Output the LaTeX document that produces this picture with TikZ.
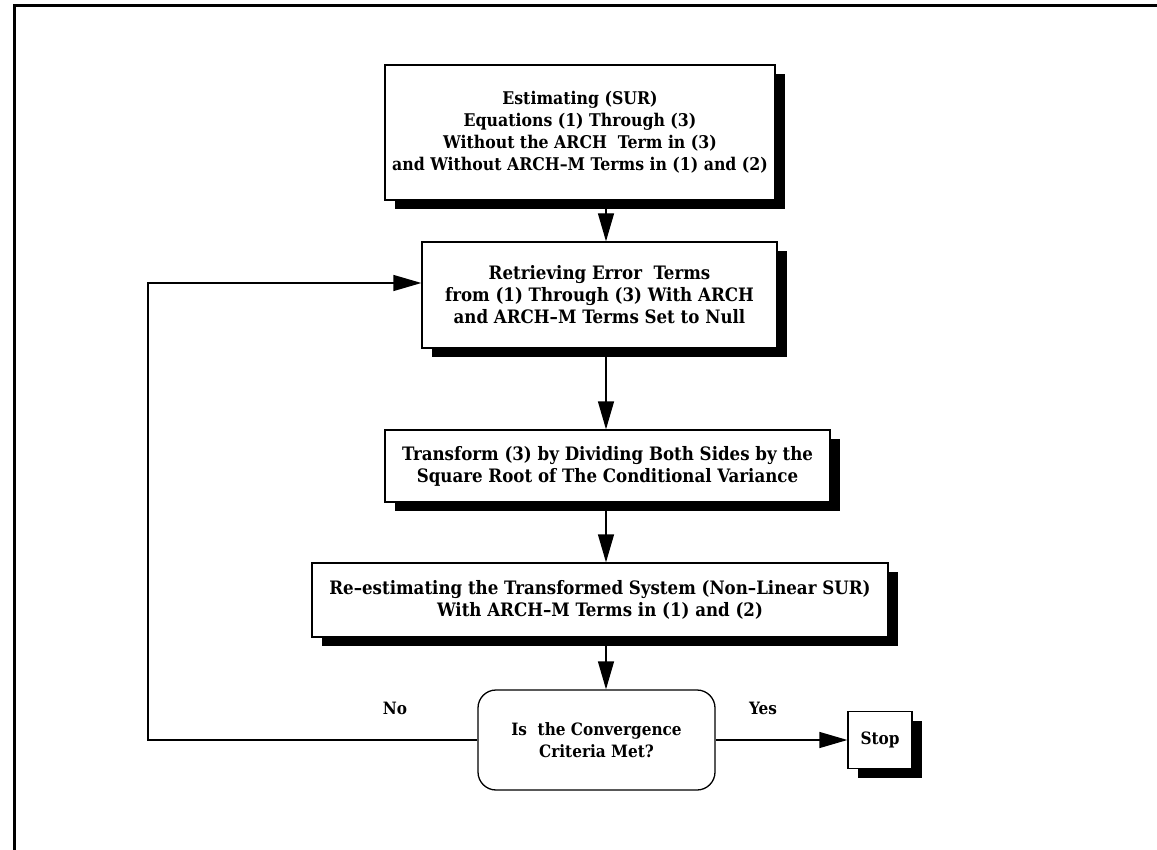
\documentclass[tikz,border=0pt]{standalone}
\usepackage{fontspec}
\setmainfont{DejaVu Serif Condensed}
\usetikzlibrary{arrows.meta,shadows}
\begin{document}
\begin{tikzpicture}[x=1pt,y=-1pt,
  txt/.style={font=\fontsize{17}{22}\selectfont\bfseries},
  bigtxt/.style={font=\fontsize{18.5}{22}\selectfont\bfseries},
  box/.style={txt,draw,line width=1.3pt,fill=white,align=center,inner sep=0pt,
    drop shadow={shadow xshift=10pt,shadow yshift=-9pt,fill=black,opacity=1}},
  decbox/.style={txt,draw,line width=1.3pt,fill=white,align=center,inner sep=0pt,rounded corners=18pt},
  arr/.style={line width=1.3pt,-{Triangle[length=28pt,width=16pt]}},
  lbl/.style={txt}
]
\useasboundingbox (0,0) rectangle (1157,850);
\draw[line width=3pt] (14,850) -- (14,6) -- (1157,6);

\coordinate (ax) at (606,0);

\node[box,font=\fontsize{17.5}{22}\selectfont\bfseries,minimum width=390pt,minimum height=135pt] (b1) at (580,132.5)
  {Estimating (SUR)\\Equations (1) Through (3)\\Without the ARCH\ \ Term in (3)\\and Without ARCH--M Terms in (1) and (2)};
\node[box,bigtxt,minimum width=355pt,minimum height=106pt] (b2) at (599.5,295)
  {Retrieving Error\ \ Terms\\from (1) Through (3) With ARCH\\and ARCH--M Terms Set to Null};
\node[box,bigtxt,minimum width=445pt,minimum height=72pt] (b3) at (607.5,466)
  {Transform (3) by Dividing Both Sides by the\\Square Root of The Conditional Variance};
\node[box,bigtxt,minimum width=576pt,minimum height=74pt] (b4) at (600,600)
  {Re--estimating the Transformed System (Non--Linear SUR)\\With ARCH--M Terms in (1) and (2)};
\node[decbox,minimum width=237pt,minimum height=100pt] (dec) at (596.5,740)
  {Is\ \ the Convergence\\Criteria Met?};
\node[box,minimum width=64pt,minimum height=57pt] (stop) at (880,740) {Stop};

\coordinate (fb) at (148,283);

\draw[arr] (b1.south -| ax) -- (b2.north -| ax);
\draw[arr] (b2.south -| ax) -- (b3.north -| ax);
\draw[arr] (b3.south -| ax) -- (b4.north -| ax);
\draw[arr] (b4.south -| ax) -- (dec.north -| ax);
\draw[arr] (dec.east) -- (stop.west);
\draw[arr] (dec.west) -| (fb) -- (fb -| b2.west);

\node[lbl] (no) at (395,708) {No};
\node[lbl] (yes) at (763,708) {Yes};
\end{tikzpicture}
\end{document}
